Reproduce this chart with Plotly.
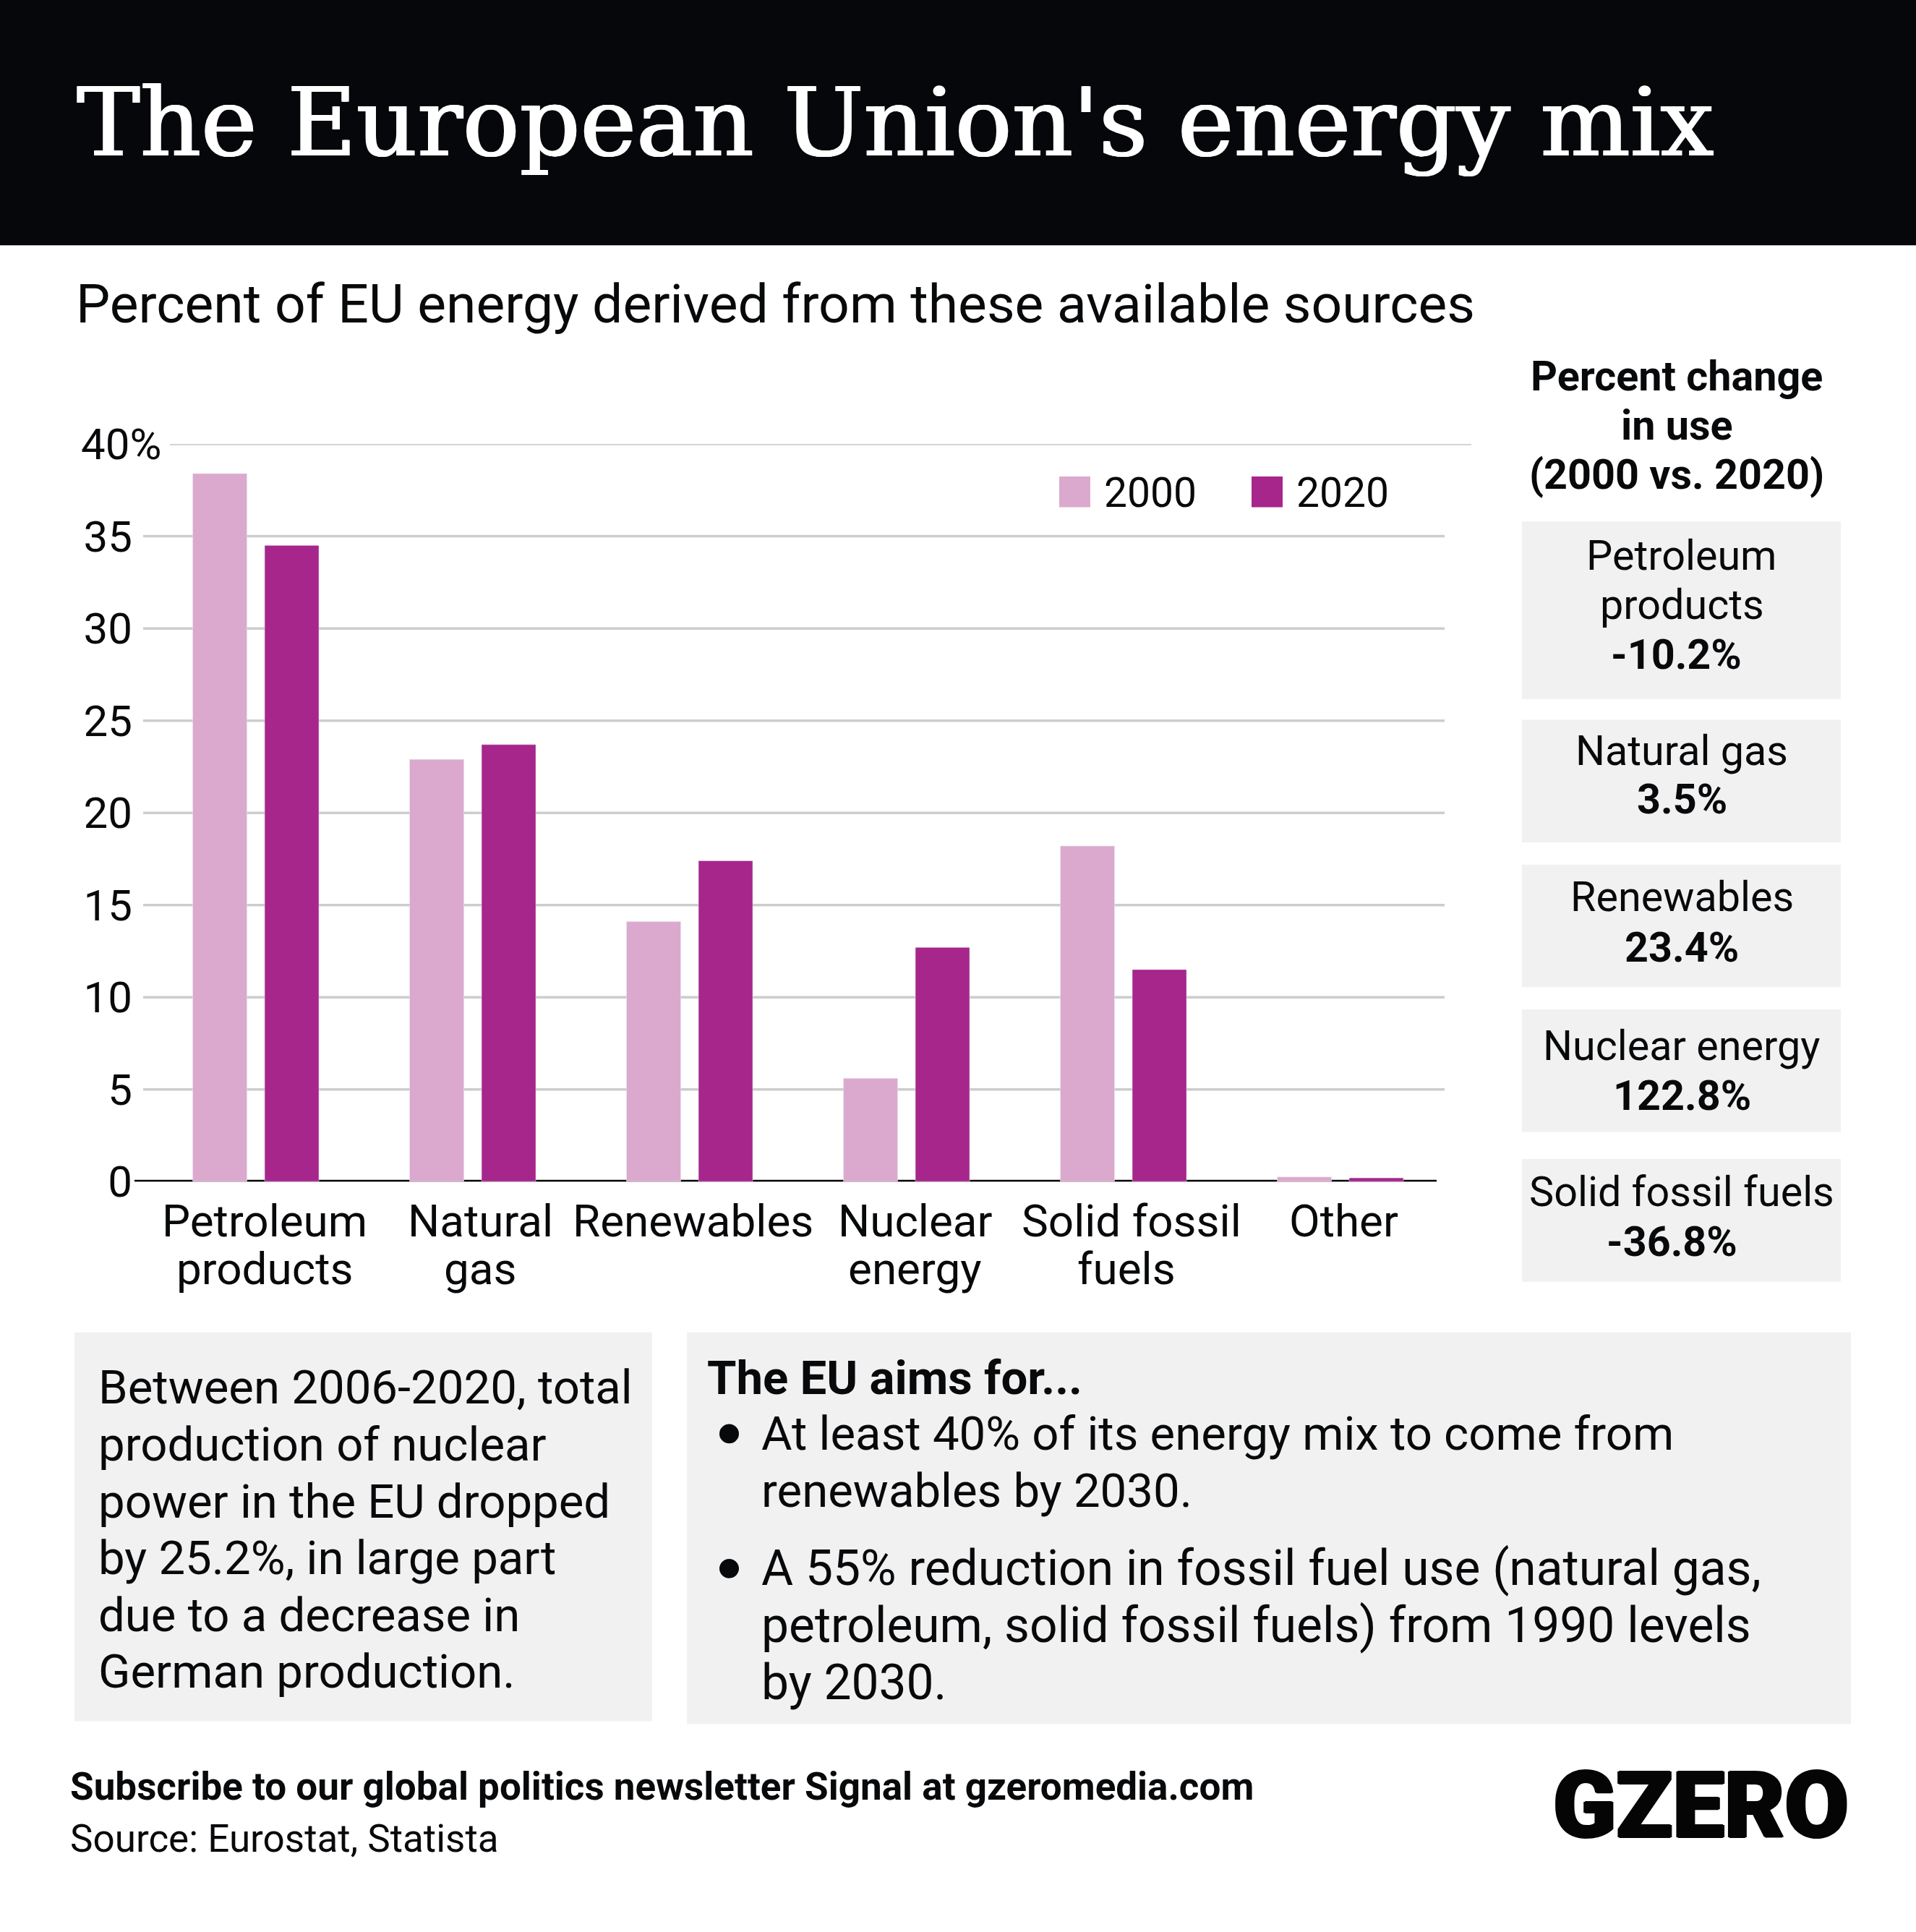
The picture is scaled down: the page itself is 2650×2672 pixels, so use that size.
import plotly.graph_objects as go

W, H = 2650, 2672

categories = ["Petroleum products", "Natural gas", "Renewables",
              "Nuclear energy", "Solid fossil fuels", "Other"]
values_2000 = [38.4, 22.9, 14.1, 5.6, 18.2, 0.25]
values_2020 = [34.5, 23.7, 17.4, 12.7, 11.5, 0.2]
y_ticks = [0, 5, 10, 15, 20, 25, 30, 35, 40]
y_tick_text = ["0", "5", "10", "15", "20", "25", "30", "35", ""]
axis_label_lines = [["Petroleum", "products"], ["Natural", "gas"], ["Renewables"],
                    ["Nuclear", "energy"], ["Solid fossil", "fuels"], ["Other"]]
change_names = [["Petroleum", "products"], ["Natural gas"], ["Renewables"],
                ["Nuclear energy"], ["Solid fossil fuels"]]
change_values = ["-10.2%", "3.5%", "23.4%", "122.8%", "-36.8%"]
note_lines = ["Between 2006-2020, total", "production of nuclear",
              "power in the EU dropped", "by 25.2%, in large part",
              "due to a decrease in", "German production."]
aim_1_lines = ["At least 40% of its energy mix to come from", "renewables by 2030."]
aim_2_lines = ["A 55% reduction in fossil fuel use (natural gas,",
               "petroleum, solid fossil fuels) from 1990 levels", "by 2030."]

LIGHT = "#DCA9CE"
DARK = "#A6268C"
PANEL = "#F1F1F1"
INK = "#08090B"
FONT = "Roboto"


def px_x(x):
    return x / W


def px_y(y):
    return 1 - y / H


def add_text(fig, text, x, y, size, anchor="left", bold=False, family=FONT, **kw):
    fig.add_annotation(
        text=f"<b>{text}</b>" if bold else text,
        xref="paper", yref="paper", x=px_x(x), y=px_y(y),
        xanchor=anchor, yanchor="middle", showarrow=False,
        font=dict(family=family, size=size, color=INK), **kw)


def add_rect(fig, x0, y0, x1, y1, color, layer="below", kind="rect"):
    fig.add_shape(type=kind, xref="paper", yref="paper", layer=layer,
                  x0=px_x(x0), x1=px_x(x1), y0=px_y(y0), y1=px_y(y1),
                  fillcolor=color, line_width=0)


fig = go.Figure()
fig.add_trace(go.Bar(name="2000", x=categories, y=values_2000, marker_color=LIGHT))
fig.add_trace(go.Bar(name="2020", x=categories, y=values_2020, marker_color=DARK))

fig.update_layout(
    width=W, height=H, margin=dict(l=0, r=0, t=0, b=0),
    paper_bgcolor="white", plot_bgcolor="rgba(0,0,0,0)",
    barmode="group", bargap=0.3367, bargroupgap=0.246, showlegend=False,
    font=dict(family=FONT, color=INK),
)
fig.update_xaxes(
    domain=[px_x(184), px_x(1987)], range=[-0.566, 5.444],
    showticklabels=False, showgrid=False, ticks="", showline=False,
)
fig.update_yaxes(
    domain=[px_y(1656.5), px_y(622.5)], range=[0, 40],
    tickmode="array", tickvals=y_ticks, ticktext=y_tick_text,
    tickfont=dict(family=FONT, size=60, color=INK),
    showgrid=False, zeroline=False, showline=False, ticks="",
)

# header band
add_rect(fig, 0, 0, W, 344, "#06070A")
fig.add_annotation(
    text="The European Union's energy mix", xref="paper", yref="paper",
    x=px_x(104), y=px_y(172), xanchor="left", yanchor="middle", showarrow=False,
    font=dict(family="DejaVu Serif", size=131, color="white",
              shadow="1.5px 0 0 white, -1px 0 0 white"))
add_text(fig, "Percent of EU energy derived from these available sources", 103, 426, 75)

# gridlines, the top one sits further right
for tick in y_ticks[1:]:
    x0, x1 = (235, 2035) if tick == 40 else (198, 1998)
    fig.add_shape(type="line", xref="paper", yref="y", layer="below",
                  x0=px_x(x0), x1=px_x(x1), y0=tick, y1=tick,
                  line=dict(color="#CDCDCD", width=3.5))
# baseline runs behind the bars
fig.add_shape(type="line", xref="paper", yref="y", layer="below",
              x0=px_x(186), x1=px_x(1987), y0=0, y1=0,
              line=dict(color="black", width=5))
fig.add_annotation(text="40%", xref="paper", yref="y", x=px_x(225), y=40,
                   xanchor="right", yanchor="middle", showarrow=False,
                   font=dict(family=FONT, size=60, color=INK))

# category labels, one annotation per line for the tight leading
label_shift = [[12, 12], [11, 11], [5], [12, 12], [11, 4], [5]]
for cat, lines, shifts in zip(categories, axis_label_lines, label_shift):
    for i, (line, shift) in enumerate(zip(lines, shifts)):
        fig.add_annotation(text=line, xref="x", yref="paper", x=cat, y=px_y(1712 + i * 66.5),
                           xshift=shift, xanchor="center", yanchor="middle", showarrow=False,
                           font=dict(family=FONT, size=62, color=INK))

# legend
for x, color, label in [(1465, LIGHT, "2000"), (1731, DARK, "2020")]:
    add_rect(fig, x, 668, x + 43, 711, color, layer="above")
    add_text(fig, label, x + 60, 691, 57)

# percent change column
for i, line in enumerate(["Percent change", "in use", "(2000 vs. 2020)"]):
    add_text(fig, line, 2319, 528 + i * 68.5, 57.5, anchor="center", bold=True)

panel_tops = [731, 1009, 1212, 1415, 1625]
panel_bottoms = [980, 1181, 1384, 1587, 1797]
name_rows = [[779, 848], [1053], [1257], [1466], [1671]]
value_rows = [918, 1121, 1328, 1536, 1741]
value_x = [2318, 2326, 2326, 2326, 2312]
for i in range(5):
    add_rect(fig, 2105, panel_tops[i], 2546, panel_bottoms[i], PANEL)
    for line, y in zip(change_names[i], name_rows[i]):
        add_text(fig, line, 2326, y, 57.5, anchor="center")
    add_text(fig, change_values[i], value_x[i], value_rows[i], 57.5, anchor="center", bold=True)

# bottom boxes
add_rect(fig, 103, 1868, 902, 2413, PANEL)
add_rect(fig, 950, 1868, 2560, 2417, PANEL)
for i, line in enumerate(note_lines):
    add_text(fig, line, 134, 1945 + i * 79.7, 65.3)

add_text(fig, "The EU aims for...", 976, 1932, 65.3, bold=True)
for bullet_y in [2010, 2199]:
    add_rect(fig, 995, bullet_y - 13.5, 1022, bullet_y + 13.5, INK, layer="above", kind="circle")
for i, line in enumerate(aim_1_lines):
    add_text(fig, line, 1051, 2010 + i * 80, 65.3)
for i, line in enumerate(aim_2_lines):
    add_text(fig, line, 1051, 2199 + i * 80, 67.7)

# footer
add_text(fig, "Subscribe to our global politics newsletter Signal at gzeromedia.com",
         95, 2505, 53, bold=True)
add_text(fig, "Source: Eurostat, Statista", 95, 2578, 53)
fig.add_annotation(text="GZERO", xref="paper", yref="paper", x=px_x(2559), y=px_y(2531),
                   xanchor="right", yanchor="middle", showarrow=False,
                   font=dict(family=FONT, size=128, color="#050505", weight=900,
                             shadow="2px 0 0 #050505, -2px 0 0 #050505, 0 1px 0 #050505, 0 -1px 0 #050505"))

fig.write_html("out.html", config={"displayModeBar": False},
               post_script="document.body.style.margin = '0';")
